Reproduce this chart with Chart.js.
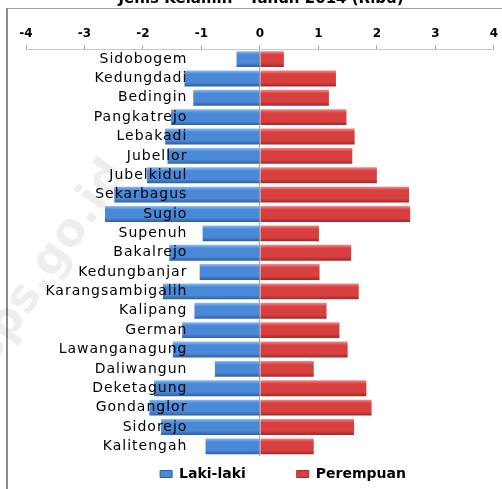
<!DOCTYPE html>
<html>
<head>
<meta charset="utf-8">
<script src="https://cdn.jsdelivr.net/npm/chart.js@4/dist/chart.umd.min.js"></script>
<style>
  html, body { margin: 0; padding: 0; background: #fff; }
  #wrap { position: relative; width: 502px; height: 489px; overflow: hidden; }
  #frame { position: absolute; left: 6px; top: 8px; width: 600px; height: 600px;
           border-left: 2px solid #8c8c8c; border-top: 1px solid #a0a0a0; }
  #box { position: absolute; left: 0; top: -12px; width: 502px; height: 501px; }
</style>
</head>
<body>
<div id="wrap">
  <div id="frame"></div>
  <div id="box"><canvas id="chart"></canvas></div>
</div>
<script>
const desa = [
  "Sidobogem", "Kedungdadi", "Bedingin", "Pangkatrejo", "Lebakadi", "Jubellor",
  "Jubelkidul", "Sekarbagus", "Sugio", "Supenuh", "Bakalrejo", "Kedungbanjar",
  "Karangsambigalih", "Kalipang", "German", "Lawanganagung", "Daliwangun",
  "Deketagung", "Gondanglor", "Sidorejo", "Kalitengah"
];
const lakiLaki = [
  0.40, 1.29, 1.14, 1.52, 1.62, 1.58, 1.93, 2.49, 2.65, 0.98, 1.55,
  1.03, 1.66, 1.12, 1.33, 1.49, 0.77, 1.81, 1.89, 1.69, 0.93
];
const perempuan = [
  0.41, 1.30, 1.18, 1.48, 1.62, 1.58, 2.00, 2.55, 2.57, 1.01, 1.56,
  1.02, 1.69, 1.14, 1.36, 1.50, 0.92, 1.82, 1.91, 1.61, 0.92
];
const xTicks = [-4, -3, -2, -1, 0, 1, 2, 3, 4];

Chart.defaults.font.family = "'DejaVu Sans', sans-serif";
Chart.defaults.color = "#000";

const BAR_PCT = 0.82;
const blueStops = ["#8dbdf2", "#4a88d8", "#2d5f9e"];
const redStops = ["#f58a8a", "#d8403f", "#a02a2a"];

// vertical gradient per bar, to get the shiny excel look
function barFill(stops) {
  return (c) => {
    const chart = c.chart;
    const y = chart.scales && chart.scales.y;
    if (!chart.chartArea || !y || c.dataIndex === undefined) return stops[1];
    const yc = y.getPixelForValue(c.dataIndex);
    const h = (y.height / desa.length) * BAR_PCT;
    const g = chart.ctx.createLinearGradient(0, yc - h / 2, 0, yc + h / 2);
    g.addColorStop(0, stops[0]);
    g.addColorStop(0.22, stops[1]);
    g.addColorStop(0.75, stops[1]);
    g.addColorStop(1, stops[2]);
    return g;
  };
}

const extras = {
  id: "extras",
  afterLayout(chart) {
    // legend in the original sits right of centre and a bit lower
    const lg = chart.legend;
    lg.left += 22; lg.right += 22;
    lg.top += 2; lg.bottom += 2;
  },
  beforeDraw(chart) {
    const ctx = chart.ctx;
    ctx.letterSpacing = "0px";
    ctx.save();
    ctx.translate(118, 178);
    ctx.rotate(-55 * Math.PI / 180);
    ctx.font = "bold 46px 'DejaVu Sans'";
    ctx.fillStyle = "rgba(0,0,0,0.065)";
    ctx.textAlign = "right";
    ctx.textBaseline = "middle";
    ctx.fillText("bps.go.id", 0, 0);
    ctx.restore();
  },
  afterDatasetsDraw(chart) {
    // only the category labels (drawn on top of bars) get the wide spacing
    chart.ctx.letterSpacing = "1px";
  },
  afterDraw(chart) {
    chart.ctx.letterSpacing = "0px";
  }
};

new Chart(document.getElementById("chart"), {
  type: "bar",
  data: {
    labels: desa,
    datasets: [
      {
        label: "Laki-laki",
        data: lakiLaki.map(v => -v),
        backgroundColor: barFill(blueStops),
        barPercentage: BAR_PCT,
        categoryPercentage: 1
      },
      {
        label: "Perempuan",
        data: perempuan,
        backgroundColor: barFill(redStops),
        barPercentage: BAR_PCT,
        categoryPercentage: 1
      }
    ]
  },
  options: {
    indexAxis: "y",
    responsive: true,
    maintainAspectRatio: false,
    animation: false,
    layout: { padding: { left: 26, right: 6, top: 0, bottom: 0 } },
    scales: {
      x: {
        position: "top",
        min: -4,
        max: 4,
        stacked: true,
        afterBuildTicks: (s) => { s.ticks = xTicks.map(v => ({ value: v })); },
        ticks: { font: { size: 12, weight: "bold" }, padding: 4, color: "#000" },
        grid: {
          drawOnChartArea: true,
          color: (c) => (c.tick && c.tick.value === 0 ? "#a8a8a8" : "rgba(0,0,0,0)"),
          tickColor: "#a0a0a0",
          tickLength: 4
        },
        border: { display: true, color: "#c8c8c8" }
      },
      y: {
        position: { x: -1.24 },
        stacked: true,
        grid: { display: false, drawTicks: false },
        border: { display: false },
        ticks: { font: { size: 14 }, padding: 0, color: "#000", autoSkip: false, z: 1 }
      }
    },
    plugins: {
      title: {
        display: true,
        text: "Jenis Kelamin - Tahun 2014 (Ribu)",
        font: { size: 15, weight: "bold" },
        color: "#000",
        padding: { top: 2, bottom: 15 }
      },
      legend: {
        position: "bottom",
        labels: {
          font: { size: 14, weight: "bold" },
          boxWidth: 12,
          boxHeight: 7,
          padding: 9,
          generateLabels: () => [
            { text: "Laki-laki\u2003\u2003\u2003", fillStyle: "#4a88d8", strokeStyle: "#2d5f9e", lineWidth: 1, datasetIndex: 0 },
            { text: "Perempuan", fillStyle: "#d8403f", strokeStyle: "#a02a2a", lineWidth: 1, datasetIndex: 1 }
          ]
        }
      },
      tooltip: { enabled: false }
    }
  },
  plugins: [extras]
});
</script>
</body>
</html>
